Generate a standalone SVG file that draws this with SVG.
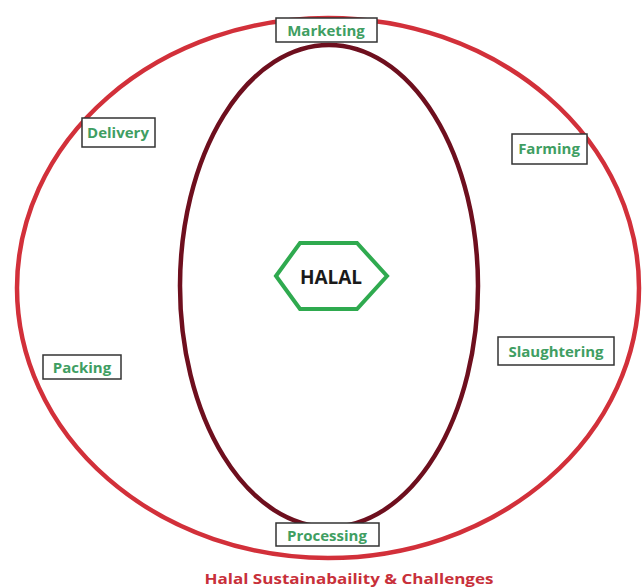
<svg xmlns="http://www.w3.org/2000/svg" width="642" height="588" viewBox="0 0 642 588">
<style>
.box{fill:#ffffff;stroke:#333333;stroke-width:1.5}
.lbl{font-family:"Open Sans","Liberation Sans",sans-serif;font-weight:bold;font-size:15px;fill:#3f9e62;text-anchor:middle;dominant-baseline:central}
</style>
<rect width="642" height="588" fill="#ffffff"/>
<g id="connectors">
<ellipse id="outer" cx="328" cy="288" rx="311" ry="270" fill="none" stroke="#d2303a" stroke-width="4.5"/>
<ellipse id="inner" cx="329" cy="286" rx="149" ry="241" fill="none" stroke="#6e0f1e" stroke-width="4.5"/>
</g>
<g id="halal">
<polygon points="276,276 300,243 357,243 387,276 357,309 300,309" fill="#ffffff" stroke="#2faa4f" stroke-width="4"/>
<text x="331" y="277" font-family="'Open Sans','Liberation Sans',sans-serif" font-weight="bold" font-size="19" fill="#1a1a1a" text-anchor="middle" dominant-baseline="central">HALAL</text>
</g>
<g id="marketing"><rect class="box" x="276" y="18" width="101" height="24"/><text class="lbl" x="326" y="30">Marketing</text></g>
<g id="delivery"><rect class="box" x="82" y="118" width="73" height="29"/><text class="lbl" x="118" y="132">Delivery</text></g>
<g id="farming"><rect class="box" x="512" y="134" width="75" height="30"/><text class="lbl" x="549" y="148">Farming</text></g>
<g id="packing"><rect class="box" x="43" y="355" width="78" height="24"/><text class="lbl" x="82" y="367">Packing</text></g>
<g id="slaughtering"><rect class="box" x="498" y="337" width="116" height="28"/><text class="lbl" x="556" y="351">Slaughtering</text></g>
<g id="processing"><rect class="box" x="276" y="523" width="103" height="23"/><text class="lbl" x="327" y="535">Processing</text></g>
<text id="title" x="349" y="578" font-family="'Open Sans','Liberation Sans',sans-serif" font-weight="bold" font-size="14" fill="#c8303a" text-anchor="middle" dominant-baseline="central" textLength="289" lengthAdjust="spacingAndGlyphs">Halal Sustainabaility &amp; Challenges</text>
</svg>
